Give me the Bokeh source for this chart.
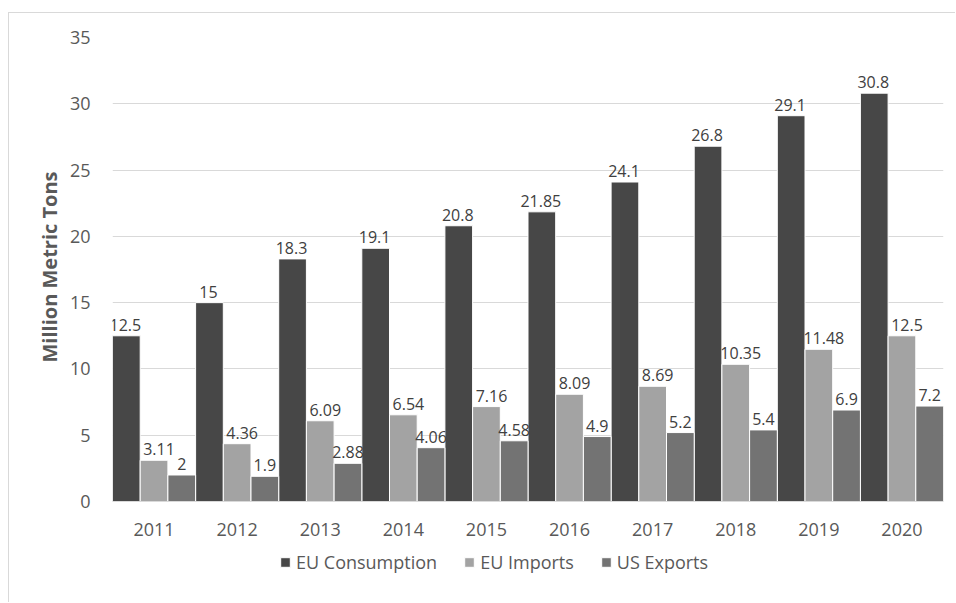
from bokeh.plotting import figure
from bokeh.models import ColumnDataSource, FactorRange, FixedTicker, Legend, LegendItem, Range1d, Title
from bokeh.transform import dodge
from bokeh.core.properties import value
from bokeh.embed import file_html
from bokeh.resources import INLINE

years = ["2011", "2012", "2013", "2014", "2015", "2016", "2017", "2018", "2019", "2020"]
eu_consumption = [12.5, 15, 18.3, 19.1, 20.8, 21.85, 24.1, 26.8, 29.1, 30.8]
eu_imports = [3.11, 4.36, 6.09, 6.54, 7.16, 8.09, 8.69, 10.35, 11.48, 12.5]
us_exports = [2, 1.9, 2.88, 4.06, 4.58, 4.9, 5.2, 5.4, 6.9, 7.2]
series_names = ["EU Consumption", "EU Imports", "US Exports"]
y_ticks = [0, 5, 10, 15, 20, 25, 30, 35]
y_title = "Million Metric Tons"

colors = ["#474747", "#a3a3a3", "#737373"]
FONT = "Open Sans"

src = ColumnDataSource(dict(
    year=years,
    c=eu_consumption, i=eu_imports, u=us_exports,
    cl=[f"{v:g}" for v in eu_consumption],
    il=[f"{v:g}" for v in eu_imports],
    ul=[f"{v:g}" for v in us_exports],
))

# frame extends below zero to host the legend; 464 px span for 0..35, 102 px below
y_top = 35
y_bottom = -y_top * 102 / 464

p = figure(
    x_range=FactorRange(*years, range_padding=0),
    y_range=Range1d(y_bottom, y_top),
    width=947, height=590,
    min_border_left=103, min_border_right=13, min_border_top=24, min_border_bottom=0,
    output_backend="svg", toolbar_location=None,
)
p.styles = {"margin-left": "8px", "margin-top": "12px",
            "border-left": "1px solid #d9d9d9", "border-top": "1px solid #d9d9d9"}
p.outline_line_color = None
p.background_fill_color = "white"
p.border_fill_color = "white"

w = 1 / 3
offsets = [-w, 0, w]
fields = ["c", "i", "u"]
lfields = ["cl", "il", "ul"]
label_dx = [-1, 5, 0]
renderers = []
for off, f, col in zip(offsets, fields, colors):
    r = p.vbar(x=dodge("year", off, range=p.x_range), top=f, width=w, bottom=0,
               source=src, fill_color=col, line_color="white", line_width=1)
    renderers.append(r)
for off, f, lf, dx in zip(offsets, fields, lfields, label_dx):
    p.text(x=dodge("year", off, range=p.x_range), y=f, text=lf, source=src,
           text_align="center", text_baseline="bottom", y_offset=-5, x_offset=dx,
           text_font=value(FONT), text_font_size="16px", text_color="#404040")

p.xgrid.grid_line_color = None
p.ygrid.grid_line_color = "#d9d9d9"
p.ygrid.grid_line_width = 1
p.yaxis.ticker = FixedTicker(ticks=y_ticks)
p.xaxis.fixed_location = 0

for ax in [p.xaxis[0], p.yaxis[0]]:
    ax.major_tick_line_color = None
    ax.minor_tick_line_color = None
    ax.major_label_text_font = FONT
    ax.major_label_text_font_size = "18px"
    ax.major_label_text_color = "#595959"
p.yaxis.axis_line_color = None
p.xaxis.axis_line_color = "#d9d9d9"
p.xaxis.major_label_standoff = 15
p.yaxis.major_label_standoff = 16

ytitle = Title(text=y_title, align="left", offset=241,
               text_font=FONT, text_font_style="bold", text_font_size="20px",
               text_color="#595959", standoff=7)
p.add_layout(ytitle, "left")

legend = Legend(
    items=[LegendItem(label=n, renderers=[r]) for n, r in zip(series_names, renderers)],
    location=(167, 29), orientation="horizontal",
    label_text_font=FONT, label_text_font_size="18px", label_text_color="#595959",
    glyph_width=12, glyph_height=12, label_standoff=5, spacing=26,
    padding=0, margin=0, border_line_color=None, background_fill_alpha=0,
)
p.add_layout(legend, "center")

open("out.html", "w").write(file_html(p, INLINE))
